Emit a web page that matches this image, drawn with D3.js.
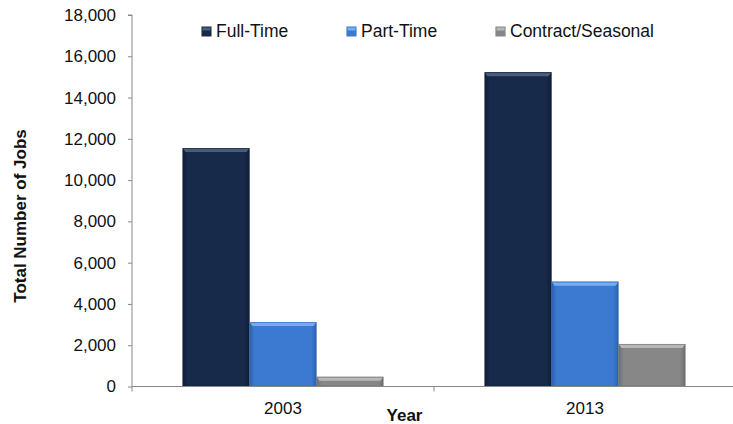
<!DOCTYPE html>
<html>
<head>
<meta charset="utf-8">
<script src="https://cdn.jsdelivr.net/npm/d3@7"></script>
<style>
  html, body { margin: 0; padding: 0; background: #fff; }
  svg { display: block; font-family: "Liberation Sans", Arial, sans-serif; }
</style>
</head>
<body>
<svg id="chart" width="733" height="424"></svg>
<script>
const years = ["2003", "2013"];
const seriesNames = ["Full-Time", "Part-Time", "Contract/Seasonal"];
const fullTime = [11550, 15230];
const partTime = [3120, 5080];
const contractSeasonal = [470, 2060];
const yTicks = [0, 2000, 4000, 6000, 8000, 10000, 12000, 14000, 16000, 18000];

const seriesValues = [fullTime, partTime, contractSeasonal];
const colors = {
  "Full-Time":        { base: "#172a4a", top: "#4b5d7c", dark: "#0f1e36" },
  "Part-Time":        { base: "#3b7ad0", top: "#74aef0", dark: "#2d62ad" },
  "Contract/Seasonal":{ base: "#878787", top: "#b8b8b8", dark: "#6e6e6e" }
};

const svg = d3.select("#chart");
const mLeft = 132, mRight = 736, mTop = 15, mBottom = 386.5;

const x0 = d3.scaleBand().domain(years).range([mLeft, mRight])
  .paddingInner(0.335).paddingOuter(0.1675);
const x1 = d3.scaleBand().domain(seriesNames).range([0, x0.bandwidth()]);
const y = d3.scaleLinear().domain([0, 18000]).range([mBottom, mTop]);

// gradients
const defs = svg.append("defs");
seriesNames.forEach((s, i) => {
  const g = defs.append("linearGradient").attr("id", "g" + i)
    .attr("x1", 0).attr("x2", 1).attr("y1", 0).attr("y2", 0);
  g.append("stop").attr("offset", "0%").attr("stop-color", colors[s].dark);
  g.append("stop").attr("offset", "8%").attr("stop-color", colors[s].base);
  g.append("stop").attr("offset", "92%").attr("stop-color", colors[s].base);
  g.append("stop").attr("offset", "100%").attr("stop-color", colors[s].dark);
});

// Y axis
const yAxis = d3.axisLeft(y).tickValues(yTicks).tickFormat(d3.format(",")).tickSize(4).tickPadding(12);
const yg = svg.append("g").attr("transform", `translate(${mLeft},0)`).call(yAxis);
yg.select(".domain").attr("stroke", "#888").attr("d", `M-4,${mTop}H0V${mBottom}`);
yg.selectAll(".tick line").attr("stroke", "#888");
yg.selectAll(".tick text").attr("font-size", 17).attr("fill", "#111")
  .attr("font-family", "Liberation Sans, Arial, sans-serif");

// bars
const groups = svg.append("g").selectAll("g").data(years).join("g")
  .attr("transform", d => `translate(${x0(d)},0)`);
seriesNames.forEach((s, si) => {
  groups.each(function(yr, yi) {
    const v = seriesValues[si][yi];
    const bx = x1(s), bw = x1.bandwidth();
    const by = y(v), bh = y(0) - y(v);
    const g = d3.select(this);
    g.append("rect").attr("x", bx).attr("y", by).attr("width", bw).attr("height", bh)
      .attr("fill", `url(#g${si})`);
    const bev = Math.min(4, bh);
    g.append("path")
      .attr("d", `M${bx},${by}H${bx + bw}L${bx + bw - 3},${by + bev}H${bx + 3}Z`)
      .attr("fill", colors[s].top);
    g.append("rect").attr("x", bx + 0.5).attr("y", by + 0.5).attr("width", bw - 1).attr("height", bh - 1)
      .attr("fill", "none").attr("stroke", colors[s].dark).attr("stroke-opacity", 0.6);
  });
});

// X axis
const xg = svg.append("g");
xg.append("line").attr("x1", mLeft).attr("x2", mRight).attr("y1", mBottom).attr("y2", mBottom)
  .attr("stroke", "#888");
const boundaries = [mLeft, ...years.map(d => x0(d) - x0.step() * x0.paddingInner() / 2 + x0.step())];
xg.selectAll("line.bt").data(boundaries).join("line").attr("class", "bt")
  .attr("x1", d => d).attr("x2", d => d).attr("y1", mBottom).attr("y2", mBottom + 5)
  .attr("stroke", "#888");
xg.selectAll("text.xl").data(years).join("text").attr("class", "xl")
  .attr("x", d => x0(d) + x0.bandwidth() / 2).attr("y", 413.5)
  .attr("text-anchor", "middle").attr("font-size", 17).attr("fill", "#111").text(d => d);

// axis titles
svg.append("text").attr("x", 404.5).attr("y", 421).attr("text-anchor", "middle")
  .attr("font-size", 17).attr("font-weight", "bold").attr("fill", "#111").text("Year");
svg.append("text").attr("transform", "translate(26,216) rotate(-90)").attr("text-anchor", "middle")
  .attr("font-size", 17).attr("font-weight", "bold").attr("fill", "#111").text("Total Number of Jobs");

// legend
const legendX = [201.5, 346.5, 495.5];
const lg = svg.append("g").selectAll("g").data(seriesNames).join("g")
  .attr("transform", (d, i) => `translate(${legendX[i]},26.5)`);
lg.append("rect").attr("width", 10).attr("height", 10).attr("fill", (d, i) => `url(#g${i})`);
lg.append("rect").attr("x", 1).attr("y", 1).attr("width", 8).attr("height", 3).attr("fill", d => colors[d].top);
lg.append("text").attr("x", 14.5).attr("y", 10.8).attr("font-size", 17.5).attr("fill", "#111").text(d => d);
</script>
</body>
</html>
